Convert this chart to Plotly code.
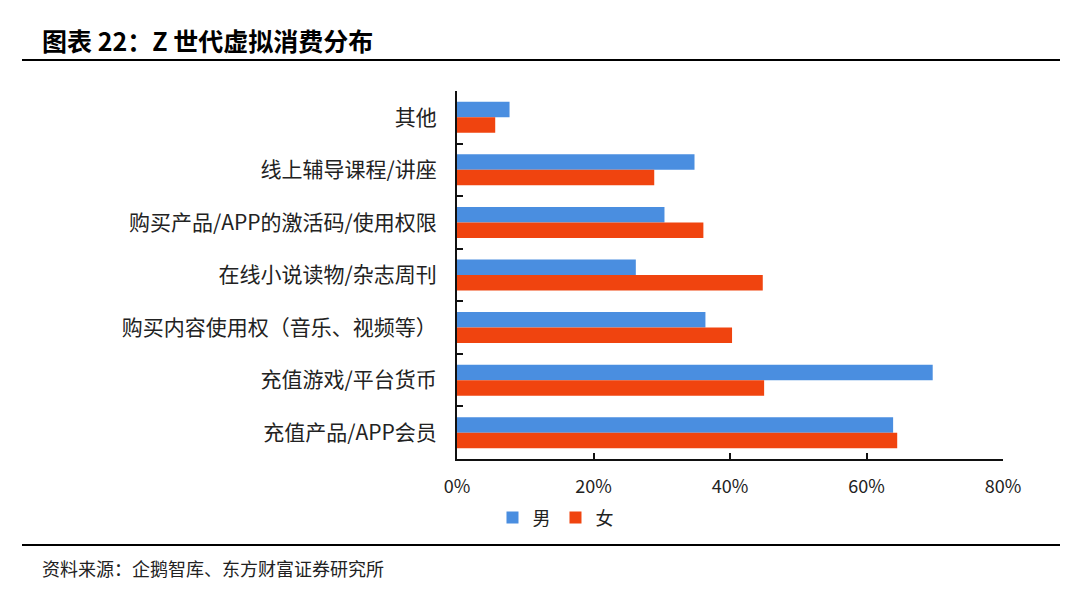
import plotly.graph_objects as go

categories = ["其他", "线上辅导课程/讲座", "购买产品/APP的激活码/使用权限",
              "在线小说读物/杂志周刊", "购买内容使用权（音乐、视频等）",
              "充值游戏/平台货币", "充值产品/APP会员"]
male = [7.7, 34.8, 30.4, 26.2, 36.4, 69.7, 63.9]
female = [5.6, 28.9, 36.1, 44.8, 40.3, 45.0, 64.5]
x_ticks = [0, 20, 40, 60, 80]
x_tick_labels = ["0%", "20%", "40%", "60%", "80%"]

FONT = "Noto Sans CJK SC"

fig = go.Figure()
fig.add_trace(go.Bar(y=categories, x=male, name="男", orientation="h",
                     marker=dict(color="#4a8ee0", line=dict(width=0))))
fig.add_trace(go.Bar(y=categories, x=female, name="女", orientation="h",
                     marker=dict(color="#f0440f", line=dict(width=0))))

fig.update_layout(
    width=1080, height=600,
    paper_bgcolor="white", plot_bgcolor="white",
    margin=dict(l=457, r=77, t=91, b=141),
    barmode="group", bargap=0.41, bargroupgap=0,
    font=dict(family=FONT, color="#222222"),
    showlegend=True,
    legend=dict(orientation="h", x=0.065, xanchor="left", y=-0.16, yanchor="middle",
                font=dict(size=18, color="#222222"), itemwidth=30,
                bgcolor="rgba(0,0,0,0)"),
    xaxis=dict(range=[0, 80], tickvals=x_ticks, ticktext=x_tick_labels,
               showgrid=False, zeroline=False, showline=True, linecolor="#111111",
               linewidth=2, ticks="inside", ticklen=6, tickcolor="#111111",
               tickwidth=2, tickfont=dict(size=18, color="#222222"),
               ticklabelstandoff=10),
    yaxis=dict(autorange="reversed", showgrid=False, zeroline=False,
               showline=True, linecolor="#111111", linewidth=2,
               ticks="inside", tickson="boundaries", ticklen=6,
               tickcolor="#111111", tickwidth=2,
               tickfont=dict(size=21, color="#222222"), ticklabelstandoff=14),
)

# Title and rules
fig.add_annotation(text="<b>图表 22：Z 世代虚拟消费分布</b>", xref="paper", yref="paper",
                   x=(40 - 457) / 546, y=(459 - 40) / 368, xanchor="left", yanchor="middle",
                   showarrow=False, font=dict(family=FONT, size=25, color="#000000"))
fig.add_annotation(text="资料来源：企鹅智库、东方财富证券研究所", xref="paper", yref="paper",
                   x=(40 - 457) / 546, y=(459 - 568) / 368, xanchor="left", yanchor="middle",
                   showarrow=False, font=dict(family=FONT, size=18, color="#222222"))
fig.add_shape(type="line", xref="paper", yref="paper",
              x0=(22 - 457) / 546, x1=(1060 - 457) / 546,
              y0=(459 - 60) / 368, y1=(459 - 60) / 368,
              line=dict(color="#000000", width=2))
fig.add_shape(type="line", xref="paper", yref="paper",
              x0=(22 - 457) / 546, x1=(1060 - 457) / 546,
              y0=(459 - 545) / 368, y1=(459 - 545) / 368,
              line=dict(color="#000000", width=2))

fig.write_html("out.html")
